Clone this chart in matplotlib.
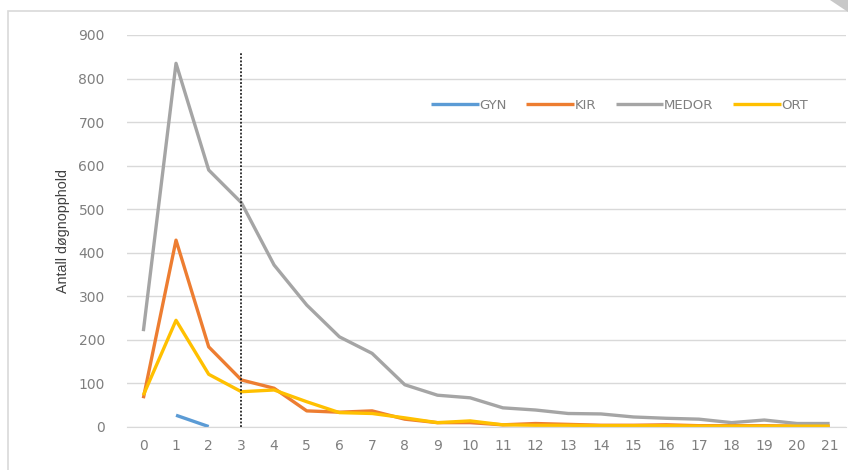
import matplotlib.pyplot as plt
import numpy as np
from matplotlib.patches import Rectangle, Polygon

plt.rcParams['font.family'] = ['DejaVu Sans']

# dager (x-akse)
days = list(range(22))
nan = np.nan
gyn = [nan, 27, 1] + [nan] * 19
kir = [66, 429, 184, 108, 89, 37, 34, 37, 18, 10, 10, 5, 8, 6, 4, 4, 5, 3, 3, 3, 2, 2]
medor = [220, 835, 590, 515, 372, 280, 207, 169, 97, 73, 67, 44, 39, 31, 30, 23, 20, 18, 10, 16, 8, 8]
ort = [73, 245, 121, 81, 85, 58, 33, 31, 21, 10, 14, 5, 4, 4, 3, 3, 3, 2, 2, 2, 2, 2]
series = [('GYN', gyn, '#5b9bd5'), ('KIR', kir, '#ed7d31'),
          ('MEDOR', medor, '#a5a5a5'), ('ORT', ort, '#ffc000')]
yticks = list(range(0, 1000, 100))
cutoff = 3

fig = plt.figure(figsize=(8.48, 4.70), dpi=100)
# ramme rundt figuren
fig.patches.append(Rectangle((8/848, -0.1), 1.1, 1 - 11/470 + 0.1, transform=fig.transFigure,
                             fill=False, edgecolor='#d9d9d9', linewidth=1.2))
fig.patches.append(Polygon([(830/848, 1), (1, 1), (1, 1 - 12/470)], closed=True,
                           transform=fig.transFigure, facecolor='#c8c8c8', edgecolor='none'))

ax = fig.add_axes([127/848, 1 - 427/470, 719/848, 392/470])
for name, vals, c in series:
    ax.plot(days, vals, color=c, linewidth=2.4, label=name, solid_capstyle='butt')

ax.plot([cutoff, cutoff], [0, 860], color='#222222', linestyle=(0, (1, 1)), linewidth=1.3)

ax.set_xlim(-0.5, 21.5)
ax.set_ylim(0, 900)
ax.set_xticks(days)
ax.set_yticks(yticks)
ax.grid(axis='y', color='#d9d9d9', linewidth=1)
ax.set_axisbelow(True)
for s in ax.spines.values():
    s.set_visible(False)
ax.spines['bottom'].set_visible(True)
ax.spines['bottom'].set_color('#d9d9d9')
ax.tick_params(axis='both', length=0, labelsize=10, colors='#7f7f7f', pad=9)
ax.tick_params(axis='y', pad=16)
ax.set_ylabel('Antall døgnopphold', fontsize=10.3, color='#404040', labelpad=6,
              family=['Liberation Sans', 'DejaVu Sans'])

ax.legend(loc='center', bbox_to_anchor=(0.685, 0.82), ncol=4, frameon=False,
          handlelength=3.6, handletextpad=0.05, columnspacing=1.5,
          fontsize=9.5, labelcolor='#7f7f7f')

fig.savefig('out.png', dpi=100)
